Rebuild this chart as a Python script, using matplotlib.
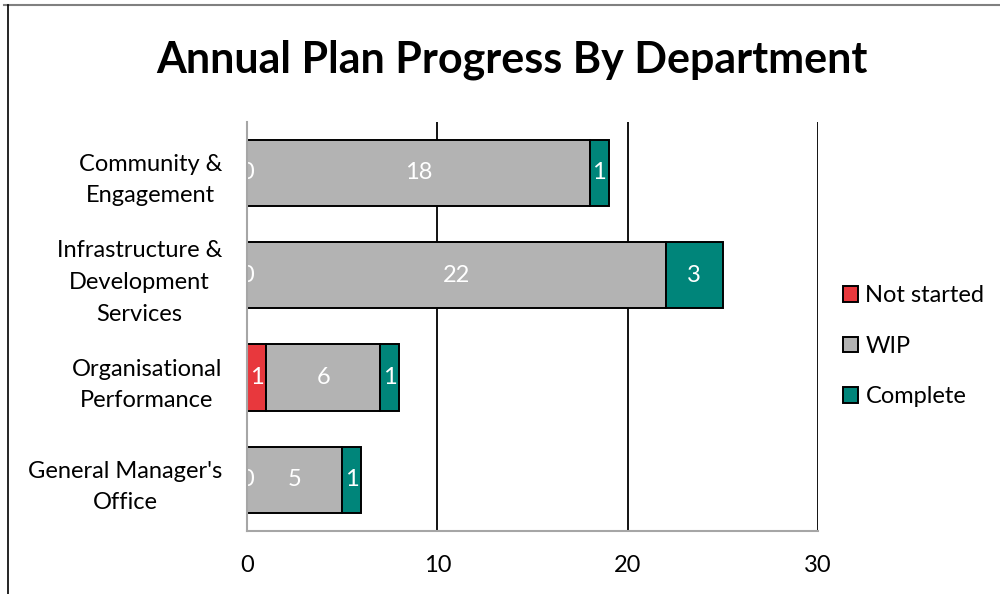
import matplotlib.pyplot as plt
import numpy as np
from matplotlib.lines import Line2D

plt.rcParams['font.family'] = ['Lato', 'DejaVu Sans']

departments = ["Community &\nEngagement", "Infrastructure &\nDevelopment\nServices",
               "Organisational\nPerformance", "General Manager's\nOffice"]
not_started = [0, 0, 1, 0]
wip = [18, 22, 6, 5]
complete = [1, 3, 1, 1]
series_names = ["Not started", "WIP", "Complete"]
colors = ["#E8383D", "#B3B3B3", "#00857A"]
x_ticks = [0, 10, 20, 30]

fs = 17

fig = plt.figure(figsize=(10, 5.94), dpi=100)
ax = fig.add_axes([0.247, 0.106, 0.571, 0.689])

y = np.arange(len(departments))
left = np.zeros(len(departments))
handles = []
for vals, name, col in zip([not_started, wip, complete], series_names, colors):
    vals = np.array(vals, dtype=float)
    bars = ax.barh(y, vals, left=left, height=0.65, color=col, edgecolor="black",
                   linewidth=1.4, label=name, zorder=3)
    for yi, v, l in zip(y, vals, left):
        ax.text(l + v / 2, yi, f"{int(v)}", color="white", ha="center", va="center",
                fontsize=fs, zorder=4, clip_on=True)
    left += vals
    handles.append(bars)

ax.set_ylim(len(departments) - 0.5, -0.5)
ax.set_xlim(0, 30)
ax.set_yticks(y)
ax.set_yticklabels(departments, fontsize=fs, ha="right", multialignment="center",
                   linespacing=1.62)
ax.tick_params(axis="y", length=0, pad=18)
ax.set_xticks(x_ticks)
ax.tick_params(axis="x", length=0, pad=17, labelsize=fs)

for xv in x_ticks[1:]:
    ax.axvline(xv, color="black", linewidth=1.3, zorder=1)
for s in ["top", "right"]:
    ax.spines[s].set_visible(False)
for s in ["left", "bottom"]:
    ax.spines[s].set_color("#A6A6A6")
    ax.spines[s].set_linewidth(1.5)
    ax.spines[s].set_zorder(5)

fig.text(0.512, 0.899, "Annual Plan Progress By Department", ha="center", va="center",
         fontsize=31, fontweight="bold")

fig.legend(handles=handles, loc="center left", bbox_to_anchor=(0.843, 0.417), frameon=False,
           fontsize=fs, handlelength=0.65, handleheight=0.65, handletextpad=0.3,
           labelspacing=1.25, borderpad=0, borderaxespad=0)

# chart border
fig.add_artist(Line2D([0.004, 1.0], [0.991, 0.991], color="#808080", linewidth=1.5))
fig.add_artist(Line2D([0.008, 0.008], [0.0, 0.991], color="black", linewidth=1.2))

fig.savefig("out.png", dpi=100)
